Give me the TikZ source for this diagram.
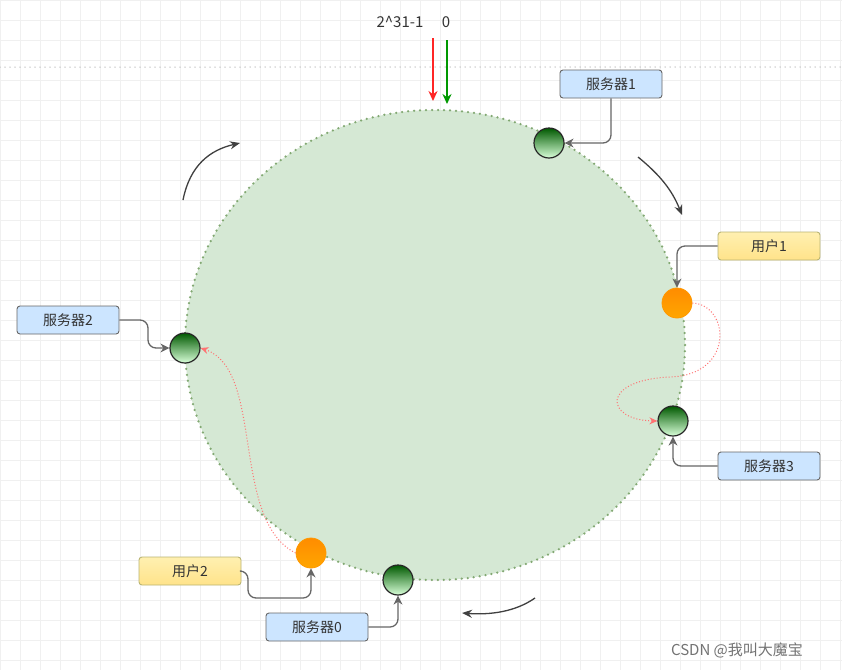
\documentclass[tikz,border=0pt]{standalone}
\usepackage{fontspec}
\setmainfont{Noto Sans CJK SC}
\usetikzlibrary{arrows.meta,shapes.geometric}
\definecolor{lblue}{HTML}{CCE5FF}
\definecolor{lyel}{HTML}{FFE38A}
\definecolor{ringfill}{HTML}{D5E8D4}
\definecolor{ringline}{HTML}{82A872}
\begin{document}
\begin{tikzpicture}[x=1pt,y=-1pt,
  lbl/.style={draw=black!60,rounded corners=3pt,minimum width=102pt,minimum height=28pt,font=\fontsize{14}{16}\selectfont,line width=0.9pt,text=black!80},
  srvlbl/.style={lbl,fill=lblue},
  usrlbl/.style={lbl,top color=yellow!10!lyel!60,bottom color=lyel,draw=yellow!55!black!70},
  srv/.style={circle,draw=black!85,line width=1.2pt,minimum size=30pt,inner sep=0pt,top color=green!35!black,bottom color=green!15!white},
  usr/.style={circle,draw=orange!80!yellow,line width=0.8pt,minimum size=30pt,inner sep=0pt,top color=orange!90!yellow,bottom color=orange!70!yellow},
  conn/.style={draw=black!60,line width=1.3pt,rounded corners=8pt,-{Stealth[length=9pt,width=9pt]}},
  hop/.style={draw=red!55,dotted,line width=1pt,-{Stealth[length=8pt,width=7pt]}},
  turn/.style={draw=black!75,line width=1.3pt,-{Stealth[length=10pt,width=8pt]}}]
\useasboundingbox (0,0) rectangle (842,670);
\fill[white] (0,0) rectangle (842,670);
\draw[black!6,step=20pt] (0,0) grid (842,670);
\draw[black!25,line width=1.5pt,line cap=round,dash pattern=on 0pt off 5pt] (0,67) -- (842,67);
\node[font=\fontsize{15}{17}\selectfont,text=black!80] (t1) at (400,22) {2\^{}31-1};
\node[font=\fontsize{15}{17}\selectfont,text=black!80] (t0) at (446,22) {0};
\coordinate (r1) at (433,38); \coordinate (r2) at (433,101);
\coordinate (g1) at (447,40); \coordinate (g2) at (447,104);
\draw[red!85,line width=1.4pt,-{Stealth[length=10pt,width=9pt]}] (r1) -- (r2);
\draw[green!60!black,line width=1.4pt,-{Stealth[length=10pt,width=9pt]}] (g1) -- (g2);
\node[ellipse,draw=ringline,fill=ringfill,line width=2.5pt,line cap=round,dash pattern=on 0pt off 6pt,minimum width=500pt,minimum height=470pt,inner sep=0pt] (ring) at (435,345) {};
\node[srv] (s1) at (549,143) {};
\node[srv] (s2) at (185,348) {};
\node[srv] (s3) at (673,421) {};
\node[srv] (s0) at (398,580) {};
\node[usr] (u1) at (677,303) {};
\node[usr] (u2) at (311,553) {};
\node[srvlbl] (l1) at (611,84) {服务器1};
\node[usrlbl] (lu1) at (769,246) {用户1};
\node[srvlbl] (l3) at (769,466) {服务器3};
\node[srvlbl] (l2) at (68,320) {服务器2};
\node[usrlbl] (lu2) at (190,571) {用户2};
\node[srvlbl] (l0) at (317,627) {服务器0};
\draw[conn] (l1.south) |- (s1.east);
\draw[conn] (lu1.west) -| (u1.north);
\draw[conn] (l3.west) -| (s3.south);
\draw[conn] (l2.east) -- (148,320) |- (s2.west);
\draw[conn] (lu2.east) -- (248,571) |- (311,598) -- (u2.south);
\draw[conn] (l0.east) -| (s0.south);
\draw[hop] (u1.east) .. controls (730,305) and (735,375) .. (670,377) .. controls (600,380) and (605,420) .. (s3.west);
\draw[hop] (u2.west) .. controls (230,520) and (265,370) .. (s2.east);
\coordinate (a1) at (183,200); \coordinate (a2) at (240,143);
\coordinate (b1) at (638,157); \coordinate (b2) at (682,215);
\coordinate (c1) at (535,598); \coordinate (c2) at (462,613);
\draw[turn] (a1) .. controls (190,165) and (210,150) .. (a2);
\draw[turn] (b1) .. controls (660,175) and (672,190) .. (b2);
\draw[turn] (c1) .. controls (515,612) and (490,615) .. (c2);
\node[text=black!55,font=\fontsize{15}{17}\selectfont] (wm) at (737,650) {CSDN @我叫大魔宝};
\end{tikzpicture}
\end{document}
